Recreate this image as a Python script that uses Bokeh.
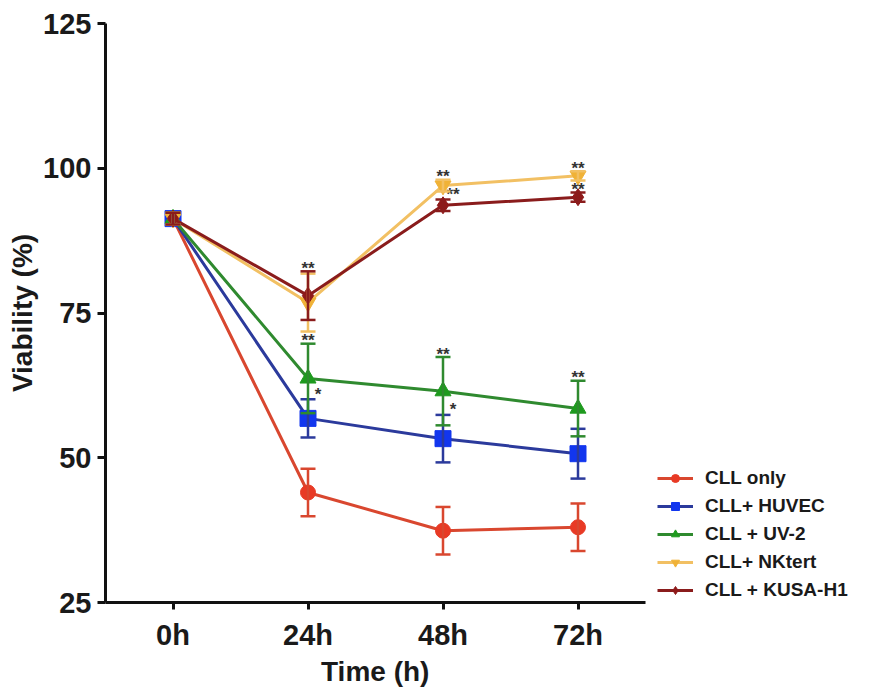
from bokeh.plotting import figure
from bokeh.models import (ColumnDataSource, Range1d, FixedTicker, Whisker, TeeHead,
                          Legend, LegendItem, Title)
from bokeh.embed import file_html
from bokeh.resources import INLINE
from bokeh.core.properties import value

# ---------------- data ----------------
times = ["0h", "24h", "48h", "72h"]
time_pos = [0, 1, 2, 3]
tick_labels = ["0h", "24h", "48h", "72h"]

series_names = ["CLL only", "CLL+ HUVEC", "CLL + UV-2", "CLL+ NKtert", "CLL + KUSA-H1"]
cll_only = [91.3, 44.0, 37.4, 38.0]
cll_only_err = [1.0, 4.1, 4.1, 4.1]
huvec = [91.3, 56.8, 53.3, 50.7]
huvec_err = [1.0, 3.3, 4.1, 4.3]
uv2 = [91.3, 63.7, 61.5, 58.5]
uv2_err = [1.0, 6.0, 5.9, 4.8]
nktert = [91.3, 76.8, 97.0, 98.7]
nktert_err = [1.0, 5.0, 1.0, 0.8]
kusa = [91.3, 78.0, 93.6, 95.0]
kusa_err = [1.0, 4.2, 1.0, 0.8]

# significance marks: (series index, time index, mark, placement)
sig_series = [4, 2, 1, 2, 1, 3, 4, 2, 3, 4]
sig_time = [1, 1, 1, 2, 2, 2, 2, 3, 3, 3]
sig_mark = ["**", "**", "*", "**", "*", "**", "**", "**", "**", "**"]
sig_side = ["top", "top", "right", "top", "right", "top", "right", "top", "top", "top"]

y_ticks = [25, 50, 75, 100, 125]
x_title = "Time (h)"
y_title = "Viability (%)"

# ---------------- styles ----------------
means = [cll_only, huvec, uv2, nktert, kusa]
errs = [cll_only_err, huvec_err, uv2_err, nktert_err, kusa_err]
line_colors = ["#D9472F", "#2B3A9C", "#2F8A2F", "#F2C063", "#8A1C1C"]
marker_colors = ["#E83A25", "#1236EE", "#1E9A1E", "#F0B237", "#8E1A1A"]
markers = ["circle", "square", "triangle", "inverted_triangle", "diamond"]
msizes = [15, 16, 16, 16, 17]

FONT = "Liberation Sans"

# frame spans to the right edge so the legend can sit inside it;
# the x axis line is limited to the data span with axis bounds
x_lo, x_hi_axis = -0.5, 3.5
frame_w = 869 - 105
axis_w = 540
x_hi_frame = x_lo + frame_w * (x_hi_axis - x_lo) / axis_w

p = figure(width=869, height=689, output_backend="svg", toolbar_location=None,
           x_range=Range1d(x_lo, x_hi_frame), y_range=Range1d(25, 125),
           min_border_left=105, min_border_right=0, min_border_top=23,
           min_border_bottom=87, outline_line_color=None)
p.grid.visible = False
p.background_fill_color = "white"
p.border_fill_color = "white"

for ax in (p.xaxis[0], p.yaxis[0]):
    ax.axis_line_width = 3
    ax.axis_line_color = "#111111"
    ax.major_tick_line_width = 3
    ax.major_tick_line_color = "#111111"
    ax.major_tick_in = 0
    ax.minor_tick_line_color = None
    ax.major_label_text_font = FONT
    ax.major_label_text_font_style = "bold"
    ax.major_label_text_font_size = "29px"
    ax.major_label_text_color = "#1a1a1a"
    ax.axis_label_text_font = FONT
    ax.axis_label_text_font_style = "bold"
    ax.axis_label_text_font_size = "28px"
    ax.axis_label_text_color = "#1a1a1a"

p.xaxis.bounds = (x_lo, x_hi_axis)
p.xaxis.ticker = FixedTicker(ticks=time_pos)
p.xaxis.major_label_overrides = {i: t for i, t in zip(time_pos, tick_labels)}
p.xaxis.major_tick_out = 7
p.xaxis.major_label_standoff = 9

p.yaxis.ticker = FixedTicker(ticks=y_ticks)
p.yaxis.major_tick_out = 8
p.yaxis.major_label_standoff = 6
p.yaxis.axis_label = y_title
p.yaxis.axis_label_standoff = 2

# x axis title centred under the axis line (not the wider frame)
title_text_w = 109
xt = Title(text=x_title, align="left", offset=axis_w / 2 - title_text_w / 2,
           text_font=FONT, text_font_style="bold", text_font_size="28px",
           text_color="#1a1a1a", standoff=0)
p.add_layout(xt, "below")

items = []
for i, name in enumerate(series_names):
    m = means[i]
    e = errs[i]
    src = ColumnDataSource(dict(x=time_pos, y=m,
                                lo=[a - b for a, b in zip(m, e)],
                                hi=[a + b for a, b in zip(m, e)]))
    w = Whisker(source=src, base="x", upper="hi", lower="lo", dimension="height",
                line_color=line_colors[i], line_width=2.5, level="glyph",
                upper_head=TeeHead(size=15, line_color=line_colors[i], line_width=2.5),
                lower_head=TeeHead(size=15, line_color=line_colors[i], line_width=2.5))
    p.add_layout(w)
    ln = p.line("x", "y", source=src, line_color=line_colors[i], line_width=3)
    sc = p.scatter("x", "y", source=src, marker=markers[i], size=msizes[i],
                   fill_color=marker_colors[i], line_color=marker_colors[i])
    items.append(LegendItem(label=name, renderers=[ln, sc]))

# significance marks
ax_, ay_, xo_, yo_, tx_ = [], [], [], [], []
for s, t, mk, side in zip(sig_series, sig_time, sig_mark, sig_side):
    top = means[s][t] + errs[s][t]
    ax_.append(time_pos[t])
    ay_.append(top)
    tx_.append(mk)
    if side == "top":
        xo_.append(0)
        yo_.append(-3)
    else:
        xo_.append(10)
        yo_.append(-5)
ann = ColumnDataSource(dict(x=ax_, y=ay_, text=tx_, xo=xo_, yo=yo_))
p.text("x", "y", text="text", source=ann, x_offset="xo", y_offset="yo",
       text_align="center", text_baseline="middle", text_font=value(FONT),
       text_font_style="bold", text_font_size="17px", text_color="#333333")

legend = Legend(items=items, location=(552, 1))
legend.label_text_font = FONT
legend.label_text_font_style = "bold"
legend.label_text_font_size = "19px"
legend.label_text_color = "#1a1a1a"
legend.glyph_width = 36
legend.glyph_height = 20
legend.label_height = 20
legend.label_standoff = 12
legend.spacing = 6
legend.padding = 0
legend.margin = 0
legend.border_line_color = None
legend.background_fill_alpha = 0
p.add_layout(legend)

open("out.html", "w").write(file_html(p, INLINE))
